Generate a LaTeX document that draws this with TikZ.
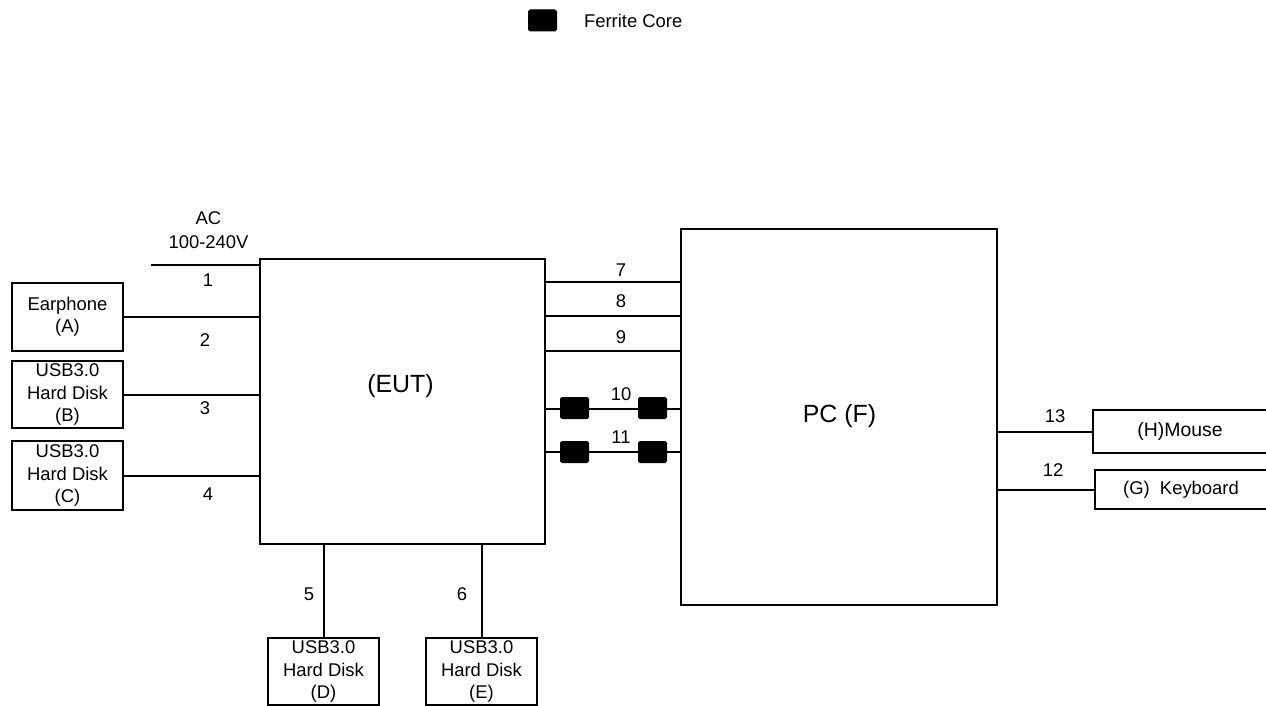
\documentclass[tikz,border=0pt]{standalone}
\usepackage{fontspec}
\setmainfont{Liberation Sans}
\begin{document}
\begin{tikzpicture}[x=1bp,y=-1bp,line width=2bp,
  every node/.style={font=\fontsize{18.5}{22.5}\selectfont, inner sep=0pt},
  box/.style={draw, rectangle, align=center},
  big/.style={font=\fontsize{25}{30}\selectfont},
  ferrite/.style={draw=black, fill=black, rounded corners=1.5pt, minimum width=28bp, minimum height=21bp, line width=1bp},
  lbl/.style={anchor=center}]
\useasboundingbox (0,0) rectangle (1266,706);
% legend
\node[ferrite] (leg) at (542.5,20.5) {};
\node[anchor=west] (legt) at (583,21) {Ferrite Core};
% main boxes
\node[box, minimum width=285bp, minimum height=285bp] (eut) at (402.5,401.5) {};
\node[big] (eutl) at (400.5,386) {(EUT)};
\node[box, minimum width=316bp, minimum height=376bp] (pc) at (839,417) {};
\node[big] (pcl) at (839.5,416) {PC (F)};
% left peripherals
\node[box, minimum width=111bp, minimum height=68bp] (ear) at (67.5,317) {Earphone\\(A)};
\node[box, minimum width=111bp, minimum height=67bp] (hdb) at (67.5,394.5) {USB3.0\\Hard Disk\\(B)};
\node[box, minimum width=111bp, minimum height=69bp] (hdc) at (67.5,475.5) {USB3.0\\Hard Disk\\(C)};
% bottom peripherals
\node[box, minimum width=111bp, minimum height=67bp] (hdd) at (323.5,671.5) {USB3.0\\Hard Disk\\(D)};
\node[box, minimum width=111bp, minimum height=67bp] (hde) at (481.5,671.5) {USB3.0\\Hard Disk\\(E)};
% right peripherals
\node[box, minimum width=174bp, minimum height=43bp, font=\fontsize{19.5}{23}\selectfont] (mouse) at (1180,431.5) {(H)Mouse};
\node[box, minimum width=172bp, minimum height=39bp] (kbd) at (1181,489.5) {(G)\ \ Keyboard};
% AC
\node[align=center, font=\fontsize{18.5}{24.5}\selectfont] (ac) at (208.5,230) {AC\\100-240V};
\coordinate (acend) at (151,265);
% connectors left
\draw (acend) -- (eut.west |- acend);
\draw (ear.east) -- (eut.west |- ear.east);
\draw (hdb.east) -- (eut.west |- hdb.east);
\draw (hdc.east) -- (eut.west |- hdc.east);
% connectors bottom
\draw (hdd.north) -- (eut.south -| hdd.north);
\draw (hde.north) -- (eut.south -| hde.north);
% EUT-PC
\coordinate (y7) at (0,282);
\coordinate (y8) at (0,316);
\coordinate (y9) at (0,351);
\coordinate (y10) at (0,409);
\coordinate (y11) at (0,452);
\draw (eut.east |- y7) -- (pc.west |- y7);
\draw (eut.east |- y8) -- (pc.west |- y8);
\draw (eut.east |- y9) -- (pc.west |- y9);
\draw (eut.east |- y10) -- (pc.west |- y10);
\draw (eut.east |- y11) -- (pc.west |- y11);
\node[ferrite] (f10a) at (574.5,408) {};
\node[ferrite] (f10b) at (652.5,408) {};
\node[ferrite] (f11a) at (574.5,452) {};
\node[ferrite] (f11b) at (652.5,452) {};
% PC right
\draw (pc.east |- mouse.west) -- (mouse.west);
\draw (pc.east |- kbd.west) -- (kbd.west);
% labels
\node (n1) at (208,280) {1};
\node (n2) at (205,340) {2};
\node (n3) at (205,408) {3};
\node (n4) at (208,494) {4};
\node (n5) at (309,594) {5};
\node (n6) at (462,594) {6};
\node (n7) at (621,270) {7};
\node (n8) at (621,301) {8};
\node (n9) at (621,337) {9};
\node (n10) at (621,394) {10};
\node (n11) at (621,437) {11};
\node (n13) at (1055,416) {13};
\node (n12) at (1053,470) {12};
\end{tikzpicture}
\end{document}
